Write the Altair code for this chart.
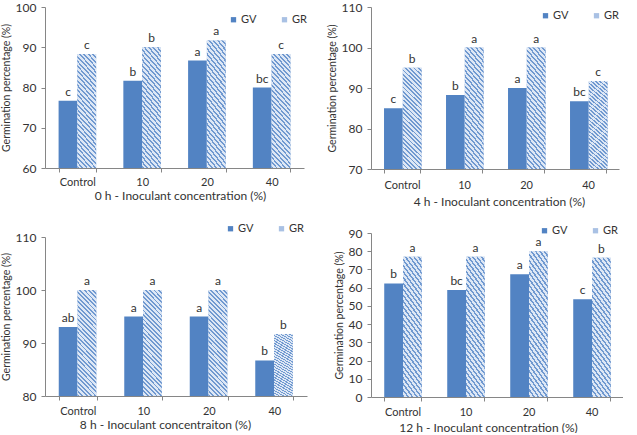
import altair as alt
import pandas as pd

# Inoculant concentrations and the two germination series
categories = ["Control", "10", "20", "40"]
series = ["GV", "GR"]

# 0 h
gv_0h = [76.7, 81.7, 86.7, 80.0]
gr_0h = [88.3, 90.0, 91.7, 88.3]
gv_0h_letters = ["c", "b", "a", "bc"]
gr_0h_letters = ["c", "b", "a", "c"]

# 4 h
gv_4h = [85.0, 88.3, 90.0, 86.7]
gr_4h = [95.0, 100.0, 100.0, 91.7]
gv_4h_letters = ["c", "b", "a", "bc"]
gr_4h_letters = ["b", "a", "a", "c"]

# 8 h
gv_8h = [93.0, 95.0, 95.0, 86.7]
gr_8h = [100.0, 100.0, 100.0, 91.7]
gv_8h_letters = ["ab", "a", "a", "b"]
gr_8h_letters = ["a", "a", "a", "b"]

# 12 h
gv_12h = [62.3, 58.7, 67.4, 53.7]
gr_12h = [77.0, 77.0, 80.0, 76.4]
gv_12h_letters = ["b", "bc", "a", "c"]
gr_12h_letters = ["a", "a", "a", "b"]

FONT = "Lato"
TEXT = "#333333"
AXIS = "#868686"
GV_COLOR = "#5283C3"
GR_COLOR = "#A9C1E4"
GR_LIGHT = "#DDE7F5"
GR_DARK = "#7099D0"


def hatch(n=28, k=5.5, frac=0.42):
    """Diagonal stripe fill for the GR bars, built from a striped linear gradient."""
    s = (1 + k) / (1 + k * k)
    stops = []
    for i in range(n):
        a, b, c = i / n, (i + frac) / n, (i + 1) / n
        stops += [
            alt.GradientStop(color=GR_DARK, offset=a),
            alt.GradientStop(color=GR_DARK, offset=b),
            alt.GradientStop(color=GR_LIGHT, offset=b),
            alt.GradientStop(color=GR_LIGHT, offset=c),
        ]
    return alt.LinearGradient(gradient="linear", stops=stops,
                              x1=0, y1=1, x2=s, y2=1 - s * k)


def panel(gv, gr, gv_lab, gr_lab, y_min, y_max, y_step, x_title,
          w, h, leg_x, leg_y, label_pad, title_pad, title_x):
    df = pd.DataFrame({
        "conc": categories * 2,
        "series": ["GV"] * 4 + ["GR"] * 4,
        "value": gv + gr,
        "letter": gv_lab + gr_lab,
    })
    base = alt.Chart(df).encode(
        x=alt.X("conc:N", sort=categories,
                scale=alt.Scale(paddingInner=0.42, paddingOuter=0.21),
                axis=alt.Axis(title=x_title, labelAngle=0, tickBand="extent",
                              labelPadding=label_pad, titlePadding=title_pad,
                              titleX=title_x, labelFontSize=11)),
        xOffset=alt.XOffset("series:N", sort=series,
                            scale=alt.Scale(domain=series)),
        y=alt.Y("value:Q",
                scale=alt.Scale(domain=[y_min, y_max], nice=False, zero=False),
                axis=alt.Axis(values=list(range(y_min, y_max + 1, y_step)),
                              title="Germination percentage (%)",
                              titleFontSize=10.5, titleLimit=300)),
    )
    bars = base.mark_bar().encode(
        y2=alt.datum(y_min),
        color=alt.Color("series:N", sort=series,
                        scale=alt.Scale(domain=series, range=[GV_COLOR, GR_COLOR]),
                        legend=alt.Legend(title=None, orient="none",
                                          legendX=leg_x, legendY=leg_y,
                                          direction="horizontal",
                                          symbolType="square", symbolSize=28,
                                          symbolStrokeWidth=0,
                                          labelFontSize=11, labelColor=TEXT,
                                          labelFont=FONT, labelOffset=2,
                                          columnPadding=22)),
    )
    stripes = base.transform_filter(alt.datum.series == "GR").mark_bar(
        fill=hatch()).encode(y2=alt.datum(y_min))
    letters = base.mark_text(baseline="bottom", dy=-2, fontSize=12,
                             font=FONT).encode(text="letter:N",
                                               fill=alt.value(TEXT))
    return alt.layer(bars, stripes, letters).properties(width=w, height=h)


p0 = panel(gv_0h, gr_0h, gv_0h_letters, gr_0h_letters, 60, 100, 10,
           "0 h - Inoculant concentration (%)", 259, 161, 183, 7, 4, 3, 135)
p4 = panel(gv_4h, gr_4h, gv_4h_letters, gr_4h_letters, 70, 110, 10,
           "4 h - Inoculant concentration  (%)", 248, 162, 169, 3, 6, 6, 128)
p8 = panel(gv_8h, gr_8h, gv_8h_letters, gr_8h_letters, 80, 110, 10,
           "8 h - Inoculant concentraiton (%)", 262, 159, 180, -14, 5, 3, 120)
p12 = panel(gv_12h, gr_12h, gv_12h_letters, gr_12h_letters, 0, 90, 10,
            "12 h - Inoculant concentration (%)", 252, 164, 168, -8, 5, 5, 117)

left = alt.vconcat(p0, p8, spacing=22).resolve_legend(color="independent")
right = alt.vconcat(p4, p12, spacing=18).resolve_legend(color="independent")

chart = alt.hconcat(left, right, spacing=20).resolve_legend(
    color="independent"
).properties(
    padding={"left": 1, "top": 1, "right": 0, "bottom": 0},
    background="white",
).configure(
    font=FONT,
).configure_view(
    stroke=None,
).configure_axis(
    grid=False,
    domainColor=AXIS,
    tickColor=AXIS,
    tickSize=4,
    labelColor=TEXT,
    titleColor=TEXT,
    labelFont=FONT,
    titleFont=FONT,
    labelFontSize=12,
    titleFontSize=12,
    titleFontWeight="normal",
).configure_axisY(
    labelPadding=5,
    titlePadding=4,
)

chart.save("out.html", embed_options={"renderer": "svg", "actions": False})
